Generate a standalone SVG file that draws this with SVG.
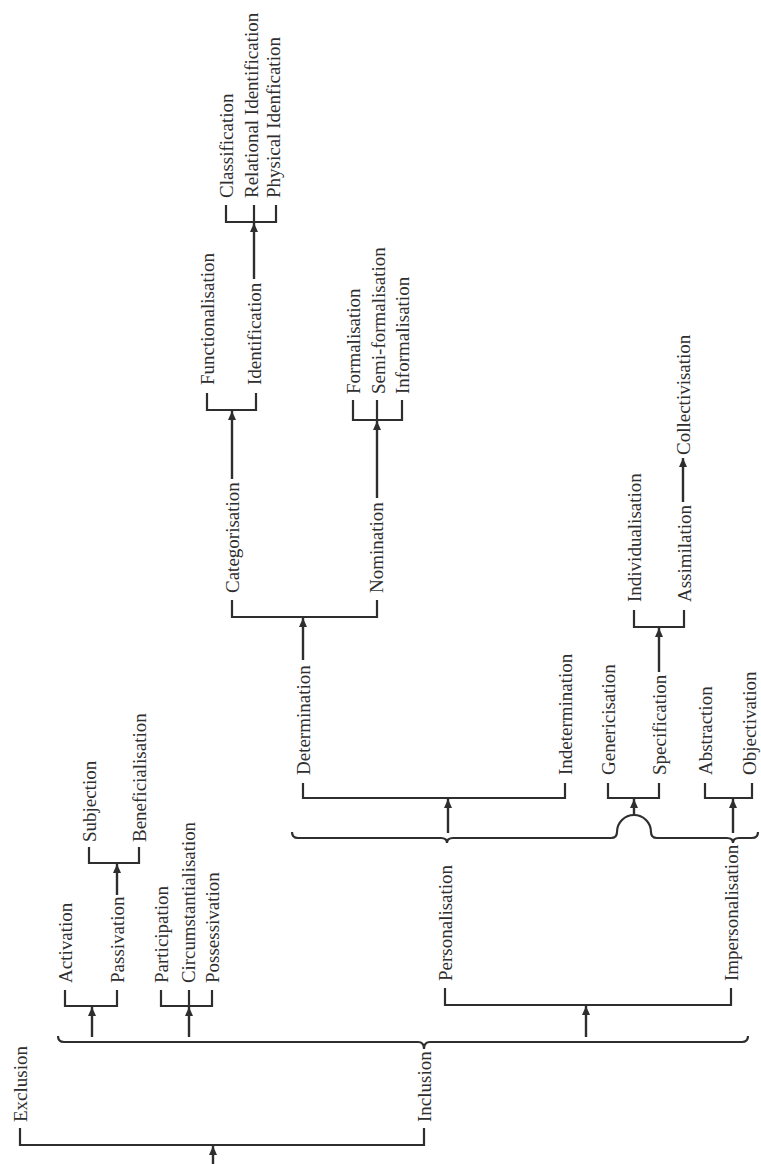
<svg xmlns="http://www.w3.org/2000/svg" width="761" height="1164" viewBox="0 0 761 1164">
<defs>
<marker id="ah" markerUnits="userSpaceOnUse" markerWidth="10" markerHeight="8" refX="9" refY="4" orient="auto">
<path d="M0,0 L9,4 L0,8 z" fill="#2e2e2e"/>
</marker>
</defs>
<style>
.t{font-family:"Liberation Serif","Times New Roman",serif;font-size:19px;fill:#2e2e2e}
.b{fill:none;stroke:#2e2e2e;stroke-width:2.2;stroke-linejoin:miter}
.a{stroke:#2e2e2e;stroke-width:2.4;marker-end:url(#ah)}
</style>
<rect width="761" height="1164" fill="#ffffff"/>
<g id="connectors">
<path class="b" d="M20,1128 V1145 H424 V1128"/>
<path class="b" d="M58,1036 Q58,1042 64,1042 L418,1042 Q424,1042 424,1049 Q424,1042 430,1042 L742,1042 Q748,1042 748,1036"/>
<path class="b" d="M65,990 V1006 H117 V990"/>
<path class="b" d="M161,990 V1006 H212 V990 M189,990 V1006"/>
<path class="b" d="M89,847 V863 H139 V847"/>
<path class="b" d="M445,988 V1005 H731 V988"/>
<path class="b" d="M292,832 Q292,838 298,838 L441,838 Q447,838 447,843 Q447,838 453,838 L611,838 Q617,838 617,832 A17,17 0 0 1 651,832 Q651,838 657,838 L727,838 Q733,838 733,843 Q733,838 739,838 L752,838 Q758,838 758,832"/>
<path class="b" d="M303,783 V798 H565 V783"/>
<path class="b" d="M608,783 V798 H659 V783"/>
<path class="b" d="M705,783 V798 H752 V783"/>
<path class="b" d="M232,600 V617 H377 V600"/>
<path class="b" d="M634,610 V627 H684 V610"/>
<path class="b" d="M207,393 V410 H256 V393"/>
<path class="b" d="M353,400 V420 H402 V400 M377,400 V420"/>
<path class="b" d="M226,205 V222 H276 V205 M254,205 V222"/>
<line class="a" x1="213" y1="1164" x2="213" y2="1146"/>
<line class="a" x1="92" y1="1037" x2="92" y2="1007"/>
<line class="a" x1="189" y1="1037" x2="189" y2="1007"/>
<line class="a" x1="586" y1="1037" x2="586" y2="1006"/>
<line class="a" x1="117" y1="895" x2="117" y2="864"/>
<line class="a" x1="448" y1="833" x2="448" y2="799"/>
<line class="a" x1="634" y1="815" x2="634" y2="799"/>
<line class="a" x1="733" y1="833" x2="733" y2="799"/>
<line class="a" x1="303" y1="660" x2="303" y2="618"/>
<line class="a" x1="659" y1="672" x2="659" y2="628"/>
<line class="a" x1="683" y1="502" x2="683" y2="458"/>
<line class="a" x1="232" y1="479" x2="232" y2="411"/>
<line class="a" x1="377" y1="498" x2="377" y2="421"/>
<line class="a" x1="254" y1="279" x2="254" y2="223"/>
</g>
<g id="n-exclusion"><text class="t" transform="translate(27,1122) rotate(-90)">Exclusion</text></g>
<g id="n-inclusion"><text class="t" transform="translate(431,1122) rotate(-90)">Inclusion</text></g>
<g id="n-activation"><text class="t" transform="translate(72,983) rotate(-90)">Activation</text></g>
<g id="n-passivation"><text class="t" transform="translate(124,983) rotate(-90)">Passivation</text></g>
<g id="n-subjection"><text class="t" transform="translate(96,842) rotate(-90)">Subjection</text></g>
<g id="n-beneficialisation"><text class="t" transform="translate(146,842) rotate(-90)">Beneficialisation</text></g>
<g id="n-participation"><text class="t" transform="translate(168,983) rotate(-90)">Participation</text></g>
<g id="n-circumstantialisation"><text class="t" transform="translate(195,983) rotate(-90)" textLength="161" lengthAdjust="spacingAndGlyphs">Circumstantialisation</text></g>
<g id="n-possessivation"><text class="t" transform="translate(219,983) rotate(-90)">Possessivation</text></g>
<g id="n-personalisation"><text class="t" transform="translate(452,981) rotate(-90)">Personalisation</text></g>
<g id="n-impersonalisation"><text class="t" transform="translate(738,981) rotate(-90)">Impersonalisation</text></g>
<g id="n-determination"><text class="t" transform="translate(310,775) rotate(-90)">Determination</text></g>
<g id="n-indetermination"><text class="t" transform="translate(572,775) rotate(-90)">Indetermination</text></g>
<g id="n-genericisation"><text class="t" transform="translate(615,775) rotate(-90)">Genericisation</text></g>
<g id="n-specification"><text class="t" transform="translate(666,775) rotate(-90)">Specification</text></g>
<g id="n-abstraction"><text class="t" transform="translate(712,775) rotate(-90)">Abstraction</text></g>
<g id="n-objectivation"><text class="t" transform="translate(756,775) rotate(-90)">Objectivation</text></g>
<g id="n-individualisation"><text class="t" transform="translate(641,602) rotate(-90)">Individualisation</text></g>
<g id="n-assimilation"><text class="t" transform="translate(691,602) rotate(-90)">Assimilation</text></g>
<g id="n-collectivisation"><text class="t" transform="translate(690,455) rotate(-90)">Collectivisation</text></g>
<g id="n-categorisation"><text class="t" transform="translate(239,593) rotate(-90)">Categorisation</text></g>
<g id="n-nomination"><text class="t" transform="translate(383,593) rotate(-90)">Nomination</text></g>
<g id="n-functionalisation"><text class="t" transform="translate(214,385) rotate(-90)">Functionalisation</text></g>
<g id="n-identification"><text class="t" transform="translate(261,385) rotate(-90)">Identification</text></g>
<g id="n-formalisation"><text class="t" transform="translate(360,394) rotate(-90)">Formalisation</text></g>
<g id="n-semiformalisation"><text class="t" transform="translate(385,394) rotate(-90)">Semi-formalisation</text></g>
<g id="n-informalisation"><text class="t" transform="translate(409,394) rotate(-90)">Informalisation</text></g>
<g id="n-classification"><text class="t" transform="translate(233,198) rotate(-90)">Classification</text></g>
<g id="n-relational"><text class="t" transform="translate(258,198) rotate(-90)">Relational Identification</text></g>
<g id="n-physical"><text class="t" transform="translate(280,198) rotate(-90)">Physical Idenfication</text></g>
</svg>
